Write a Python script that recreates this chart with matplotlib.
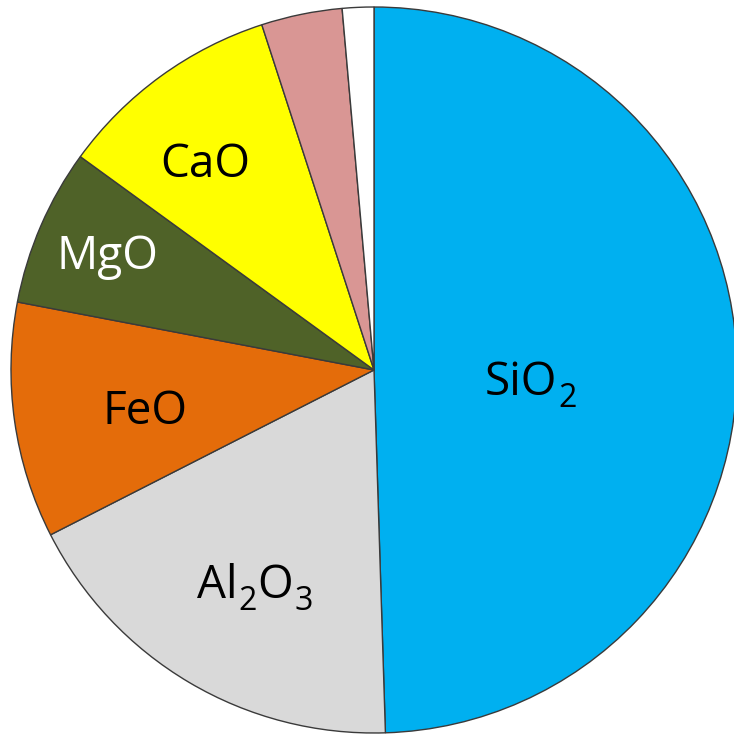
import numpy as np
import matplotlib
matplotlib.use('Agg')
import matplotlib.pyplot as plt
from matplotlib.transforms import IdentityTransform

plt.rcParams['font.family'] = ['Open Sans', 'DejaVu Sans']

# oxide shares (percent), clockwise from 12 o'clock
oxides = ['SiO2', 'Al2O3', 'FeO', 'MgO', 'CaO', 'alk', 'other']
shares = [49.5, 18.0, 10.5, 7.0, 10.0, 3.6, 1.4]
colors = ['#00B0F0', '#D9D9D9', '#E46C0A', '#4F6228', '#FFFF00', '#D99694', '#FFFFFF']

# labels as (text, subscript?) pieces
labels = [[('SiO', False), ('2', True)],
          [('Al', False), ('2', True), ('O', False), ('3', True)],
          [('FeO', False)],
          [('MgO', False)],
          [('CaO', False)]]
label_colors = ['black', 'black', 'black', 'white', 'black']

fig = plt.figure(figsize=(7.34, 7.35), dpi=100)
ax = fig.add_axes([0, 0, 1, 1])

ax.pie(shares, colors=colors, startangle=90, counterclock=False, radius=1.0,
       wedgeprops=dict(edgecolor='#3a3a3a', linewidth=1.0))

# centre at (374,370) px, radius 363 px
ax.set_xlim(-374 / 363.0, (734 - 374) / 363.0)
ax.set_ylim(-(735 - 370) / 363.0, 370 / 363.0)
ax.set_aspect('auto')
ax.axis('off')

fs = 33
# label anchor positions (left/baseline)
lx = [0.306, -0.488, -0.749, -0.876, -0.589]
ly = [-0.069, -0.628, -0.149, 0.278, 0.532]

fig.canvas.draw()
renderer = fig.canvas.get_renderer()
for parts, x, y, c in zip(labels, lx, ly, label_colors):
    px, py = ax.transData.transform((x, y))
    for s, sub in parts:
        if sub:
            t = ax.text(px, py - 12, s, fontsize=fs * 0.7, color=c, ha='left',
                        va='baseline', transform=IdentityTransform())
        else:
            t = ax.text(px, py, s, fontsize=fs, color=c, ha='left',
                        va='baseline', transform=IdentityTransform())
        bb = t.get_window_extent(renderer)
        px = bb.x1 + 1

fig.savefig('out.png', dpi=100, facecolor='white')
